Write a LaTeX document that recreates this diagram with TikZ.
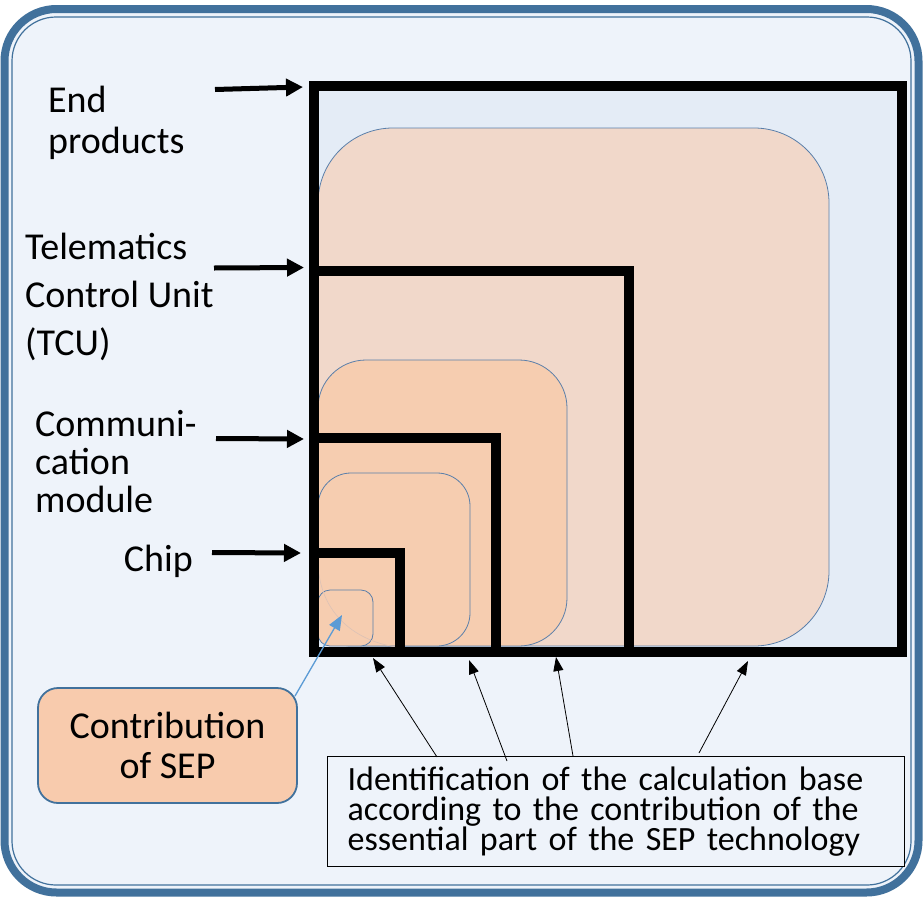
\documentclass[tikz,border=0pt]{standalone}
\usepackage{fontspec}
\setmainfont{Carlito}
\usetikzlibrary{arrows.meta}
\definecolor{framebl}{HTML}{41719C}
\definecolor{bgbl}{HTML}{EEF3FA}
\definecolor{endbl}{HTML}{E4ECF6}
\definecolor{sepor}{HTML}{F8CBAD}
\definecolor{bigor}{HTML}{F1D8CA}
\definecolor{smallor}{HTML}{F6CDB0}
\definecolor{ptrbl}{HTML}{5B9BD5}
\definecolor{edgebl}{HTML}{5A7FAA}
\definecolor{arcgr}{HTML}{DCC2B6}
\begin{document}
\begin{tikzpicture}[x=1pt,y=-1pt]
	\tikzstyle{lbl}=[inner sep=0pt,align=left,font=\fontsize{38}{41}\selectfont]
	\tikzstyle{lvl}=[draw=black,line width=10pt]
	\tikzstyle{part}=[draw=edgebl,line width=0.8pt,fill=smallor]
	\tikzstyle{bigarrow}=[-{Triangle[length=17pt,width=17pt]},line width=5pt]
	\tikzstyle{botarrow}=[-{Triangle[length=14pt,width=10pt]},line width=0.8pt]
	\tikzstyle{ptr}=[-{Triangle[length=15pt,width=12pt]},draw=ptrbl,fill=ptrbl,line width=1.3pt]
	\useasboundingbox (0,0) rectangle (923,897);
	
	% frame
	\fill[white] (0,0) rectangle (923,897);
	\draw[framebl,line width=8pt,fill=bgbl,rounded corners=52pt] (4.5,9) rectangle (918.5,892.5);
	\draw[framebl,line width=1.2pt,rounded corners=44pt] (12,17) rectangle (911,885);
	
	% levels
	\fill[endbl] (314,85.5) rectangle (901.5,651.5);
	\path[part,fill=bigor,rounded corners=75pt] (318,128) rectangle (829,646);
	\path[part,rounded corners=48pt] (318,360) rectangle (567,646);
	\path[part,rounded corners=33pt] (318,473) rectangle (470,646);
	\path[part,rounded corners=12pt] (318,590) rectangle (373,646);
	\draw[arcgr,line width=0.6pt] (319,574) .. controls (324,612) and (352,640) .. (396,647);
	\draw[lvl] (314,85.5) rectangle (901.5,651.5);
	\draw[lvl] (314,270.5) rectangle (629,651.5);
	\draw[lvl] (314,438) rectangle (495.5,651.5);
	\draw[lvl] (314,553) rectangle (400,651.5);
	
	\begin{scope}
	\node[lbl,anchor=north west] (end) at (48,86) {End\\products};
	\node[lbl,anchor=north west,font=\fontsize{38}{48}\selectfont] (tcu) at (25,233) {Telematics\\Control Unit\\(TCU)};
	\node[lbl,anchor=north west,font=\fontsize{38}{38}\selectfont] (comm) at (35,410) {Communi-\\cation\\module};
	\node[lbl,anchor=base east] (chip) at (193,571) {Chip};
	\node[draw=framebl,line width=1.8pt,fill=sepor,rounded corners=20pt,minimum width=259pt,minimum height=115pt,inner sep=0pt,align=center,font=\fontsize{38}{40}\selectfont] (sep) at (167.5,745.5) {Contribution\\of SEP};
	\node[draw=black,line width=1.2pt,fill=bgbl,anchor=north west,minimum width=577pt,minimum height=110pt,text width=537pt,inner xsep=20pt,inner ysep=0pt,align=left,font=\fontsize{34}{30}\selectfont] (ident) at (327,756) {Identification of the calculation base\\according to the contribution of the\\essential part of the SEP technology};
	\end{scope}
	
	\coordinate (end-tail) at (215,89.5);
	\coordinate (end-tip) at (303,87);
	\coordinate (tcu-tail) at (214,268);
	\coordinate (tcu-tip) at (304,267.5);
	\coordinate (comm-tail) at (216,438.5);
	\coordinate (comm-tip) at (304,439);
	\coordinate (chip-tail) at (212,552.5);
	\coordinate (chip-tip) at (301,553);
	\coordinate (b1-tail) at (437,757);
	\coordinate (b1-tip) at (373,658);
	\coordinate (b2-tail) at (507,761);
	\coordinate (b2-tip) at (469,660);
	\coordinate (b3-tail) at (573,756);
	\coordinate (b3-tip) at (556,657);
	\coordinate (b4-tail) at (699,753);
	\coordinate (b4-tip) at (748,661);
	\coordinate (sep-tail) at (295,696);
	\coordinate (sep-tip) at (342,615);
	
	\path[bigarrow]
	(end-tail) edge (end-tip)
	(tcu-tail) edge (tcu-tip)
	(comm-tail) edge (comm-tip)
	(chip-tail) edge (chip-tip)
	;
	\path[botarrow]
	(b1-tail) edge (b1-tip)
	(b2-tail) edge (b2-tip)
	(b3-tail) edge (b3-tip)
	(b4-tail) edge (b4-tip)
	;
	\draw[ptr] (sep-tail) -- (sep-tip);
\end{tikzpicture}
\end{document}
